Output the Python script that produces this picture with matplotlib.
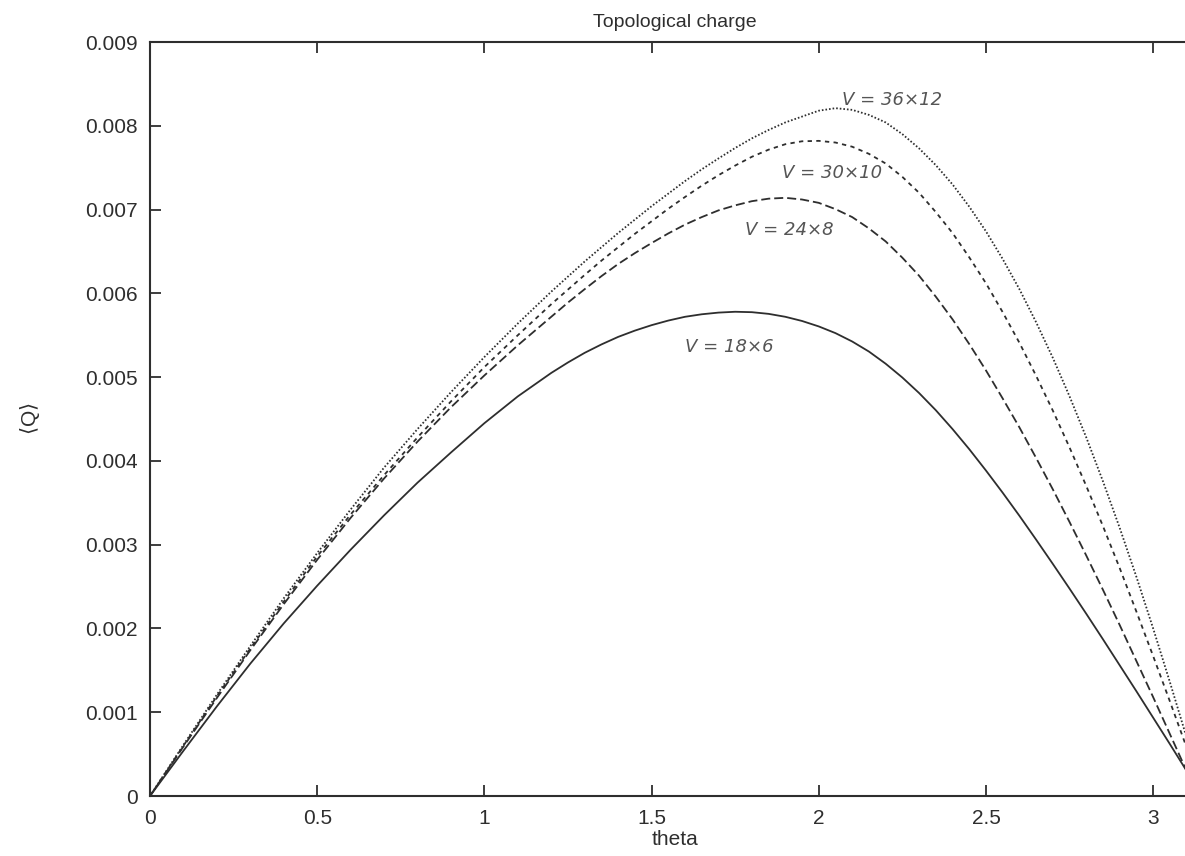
import numpy as np
import matplotlib
matplotlib.use("Agg")
import matplotlib.pyplot as plt
from matplotlib.ticker import FixedLocator, FixedFormatter

theta = [0.0, 0.1, 0.2, 0.3, 0.4, 0.5, 0.6, 0.7, 0.8, 0.9, 1.0, 1.1,
         1.2, 1.25, 1.3, 1.35, 1.4, 1.45, 1.5, 1.55, 1.6, 1.65, 1.7, 1.75,
         1.8, 1.85, 1.9, 1.95, 2.0, 2.05, 2.1, 2.15, 2.2, 2.25, 2.3, 2.35,
         2.4, 2.45, 2.5, 2.55, 2.6, 2.65, 2.7, 2.75, 2.8, 2.85, 2.9, 2.95,
         3.0, 3.05, 3.1, 3.14159]

# <Q> in units of 1e-3
q_18x6 = [0.0, 0.54, 1.07, 1.58, 2.06, 2.51, 2.94, 3.35, 3.74, 4.10, 4.45, 4.77,
          5.05, 5.175, 5.29, 5.39, 5.48, 5.555, 5.62, 5.675, 5.72, 5.75, 5.77, 5.78,
          5.775, 5.755, 5.72, 5.67, 5.605, 5.525, 5.425, 5.305, 5.16, 4.995, 4.81, 4.605,
          4.38, 4.14, 3.885, 3.62, 3.345, 3.06, 2.77, 2.475, 2.175, 1.87, 1.56, 1.25,
          0.935, 0.62, 0.30, 0.0]
q_24x8 = [0.0, 0.59, 1.17, 1.74, 2.29, 2.82, 3.32, 3.79, 4.23, 4.64, 5.02, 5.38,
          5.72, 5.89, 6.05, 6.205, 6.35, 6.48, 6.60, 6.715, 6.82, 6.91, 6.99, 7.05,
          7.10, 7.13, 7.14, 7.12, 7.08, 7.005, 6.91, 6.775, 6.62, 6.425, 6.21, 5.96,
          5.69, 5.395, 5.08, 4.745, 4.40, 4.035, 3.66, 3.27, 2.87, 2.46, 2.04, 1.61,
          1.18, 0.74, 0.30, 0.0]
q_30x10 = [0.0, 0.60, 1.19, 1.76, 2.32, 2.86, 3.36, 3.83, 4.28, 4.71, 5.12, 5.50,
           5.87, 6.045, 6.22, 6.39, 6.55, 6.71, 6.86, 7.01, 7.15, 7.285, 7.41, 7.525,
           7.63, 7.715, 7.78, 7.815, 7.82, 7.80, 7.75, 7.665, 7.55, 7.39, 7.20, 6.97,
           6.72, 6.43, 6.12, 5.775, 5.41, 5.015, 4.60, 4.16, 3.70, 3.22, 2.72, 2.20,
           1.67, 1.13, 0.58, 0.0]
q_36x12 = [0.0, 0.61, 1.21, 1.79, 2.36, 2.90, 3.42, 3.92, 4.38, 4.82, 5.24, 5.64,
           6.02, 6.20, 6.38, 6.55, 6.72, 6.88, 7.04, 7.19, 7.34, 7.48, 7.61, 7.735,
           7.85, 7.95, 8.04, 8.11, 8.18, 8.21, 8.19, 8.13, 8.04, 7.90, 7.73, 7.53,
           7.30, 7.035, 6.74, 6.41, 6.05, 5.655, 5.23, 4.77, 4.28, 3.755, 3.20, 2.615,
           2.00, 1.36, 0.70, 0.0]

labels = ["V = 18×6", "V = 24×8", "V = 30×10", "V = 36×12"]
# where the handwritten notes sit (theta, <Q> in 1e-3)
label_x = [1.60, 1.78, 1.89, 2.07]
label_y = [5.30, 6.70, 7.38, 8.25]

xticks = [0, 0.5, 1, 1.5, 2, 2.5, 3]
xtick_labels = ["0", "0.5", "1", "1.5", "2", "2.5", "3"]
yticks = [0, 0.001, 0.002, 0.003, 0.004, 0.005, 0.006, 0.007, 0.008, 0.009]
ytick_labels = ["0", "0.001", "0.002", "0.003", "0.004", "0.005",
                "0.006", "0.007", "0.008", "0.009"]

plt.rcParams["font.family"] = ["Liberation Sans", "DejaVu Sans"]
ink = "#2e2e2e"

fig = plt.figure(figsize=(11.85, 8.56), dpi=100)
# axes run past the right edge of the scan (pi sits just outside)
ax = fig.add_axes([150 / 1185, 60 / 856, 1050.5 / 1185, 754 / 856])

x = np.array(theta)
series = [q_18x6, q_24x8, q_30x10, q_36x12]
dashes = [None, (5, 2.2), (2.4, 2.4), (0.9, 1.1)]
for q, d in zip(series, dashes):
    line, = ax.plot(x, np.array(q) * 1e-3, color=ink, linewidth=1.3)
    if d is not None:
        line.set_dashes(d)

for lab, lx, ly in zip(labels, label_x, label_y):
    ax.text(lx, ly * 1e-3, lab, fontsize=13, style="italic", color="#555555",
            family=["DejaVu Sans"])

ax.set_xlim(0, np.pi)
ax.set_ylim(0, 0.009)
ax.xaxis.set_major_locator(FixedLocator(xticks))
ax.xaxis.set_major_formatter(FixedFormatter(xtick_labels))
ax.yaxis.set_major_locator(FixedLocator(yticks))
ax.yaxis.set_major_formatter(FixedFormatter(ytick_labels))
ax.tick_params(direction="in", length=8, width=1.3, colors=ink,
               labelsize=15, pad=9, top=True, right=True)
for s in ax.spines.values():
    s.set_linewidth(1.5)
    s.set_color(ink)

ax.set_title("Topological charge", fontsize=14, color=ink, pad=11)
ax.set_xlabel("theta", fontsize=15, color=ink, labelpad=2)
ax.set_ylabel(r"$\langle$Q$\rangle$", fontsize=15, color=ink)
ax.yaxis.set_label_coords(-0.114, 0.5)
ax.yaxis.label.set_va("center")

fig.savefig("out.png", dpi=100)
